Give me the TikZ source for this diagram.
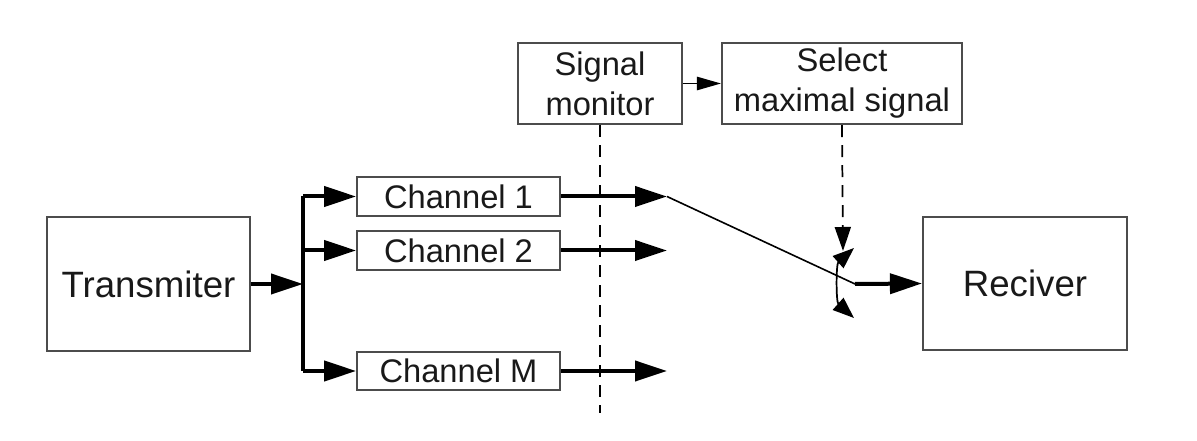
\documentclass[tikz,border=0pt]{standalone}
\usepackage{fontspec}
\setmainfont{Liberation Sans}
\usetikzlibrary{arrows.meta}
\begin{document}
\begin{tikzpicture}[x=0.75pt,y=-0.75pt,
  blk/.style={draw=black!70,line width=1.6pt,rectangle,inner sep=0pt,align=center,text=black!90},
  bigf/.style={font=\fontsize{27.5}{30}\selectfont},
  smf/.style={font=\fontsize{24.5}{30}\selectfont},
  thick arr/.style={line width=3pt,-{Triangle[length=24pt,width=15pt]}},
  thin arr/.style={line width=1.2pt,-{Triangle[length=18pt,width=10pt]}},
  dashline/.style={line width=1.3pt,dash pattern=on 9pt off 6pt}
]
\useasboundingbox (0,0) rectangle (1197,441);
\node[blk,bigf,minimum width=152pt,minimum height=100pt] (tx) at (148.5,284) {Transmiter};
\node[blk,bigf,minimum width=153pt,minimum height=100pt] (rx) at (1025,283.5) {Reciver};
\node[blk,smf,minimum width=152pt,minimum height=29pt] (c1) at (458.5,196.5) {Channel 1};
\node[blk,smf,minimum width=152pt,minimum height=29pt] (c2) at (458.5,250.5) {Channel 2};
\node[blk,smf,minimum width=152pt,minimum height=29pt] (cm) at (458.5,371) {Channel M};
\node[blk,smf,minimum width=123pt,minimum height=61pt] (mon) at (600,83.5) {Signal\\monitor};
\node[blk,smf,minimum width=180pt,minimum height=61pt] (sel) at (842,83.5) {Select\\maximal signal};
\coordinate (bus) at (303,284);
\coordinate (bt) at (303,196.5);
\coordinate (bb) at (303,371);
\coordinate (o1) at (667,196.5);
\coordinate (o2) at (667,250.5);
\coordinate (om) at (667,371);
\coordinate (piv) at (855,284);
\coordinate (mend) at (600,413);
\coordinate (sw) at (843,251);
\coordinate (at) at (854,248);
\coordinate (ab) at (854,318);
% bus
\draw[line width=3pt] (bt) -- (bb);
\draw[thick arr] (tx.east) -- (bus);
\draw[thick arr] (bt) -- (c1.west);
\draw[thick arr] (bt|-c2.west) -- (c2.west);
\draw[thick arr] (bb) -- (cm.west);
% outputs
\draw[thick arr] (c1.east) -- (o1);
\draw[thick arr] (c2.east) -- (o2);
\draw[thick arr] (cm.east) -- (om);
% dashed monitor line
\draw[dashline] (mon.south) -- (mend);
% switch
\draw[line width=1.2pt] (o1) -- (piv);
\draw[thick arr] (piv) -- (rx.west);
\draw[dashline,-{Triangle[length=18pt,width=12pt]}] (sel.south) -- (sw);
\draw[line width=1.3pt,{Triangle[length=16pt,width=12pt]}-{Triangle[length=16pt,width=12pt]}] (at) .. controls (836,264) and (836,302) .. (ab);
% monitor -> select
\draw[thin arr] (mon.east) -- (sel.west);
\end{tikzpicture}
\end{document}
